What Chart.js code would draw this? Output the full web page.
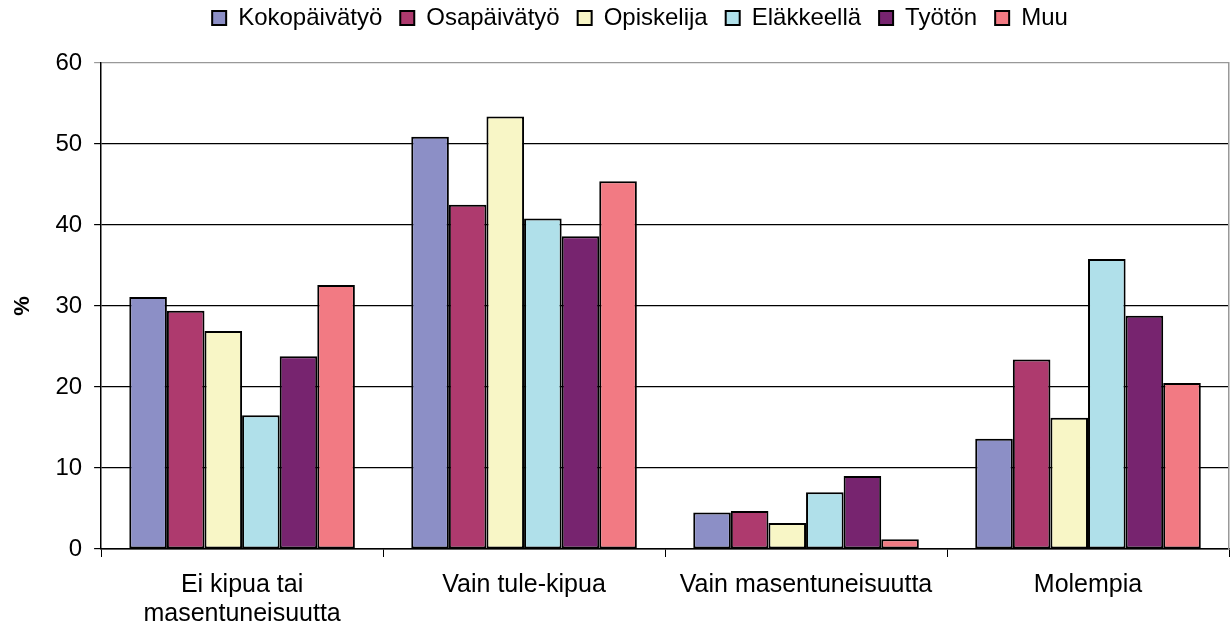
<!DOCTYPE html>
<html>
<head>
<meta charset="utf-8">
<script src="https://cdn.jsdelivr.net/npm/chart.js@4"></script>
<style>
  body { margin: 0; background: #fff; }
  #wrap { width: 1231px; height: 634px; }
</style>
</head>
<body>
<div id="wrap"><canvas id="chart"></canvas></div>
<script>
// luokat ja sarjat
const categories = [['Ei kipua tai', 'masentuneisuutta'], 'Vain tule-kipua', 'Vain masentuneisuutta', 'Molempia'];
const seriesNames = ['Kokopäivätyö', 'Osapäivätyö', 'Opiskelija', 'Eläkkeellä', 'Työtön', 'Muu'];
const kokopaivatyo = [31.1, 50.9, 4.5, 13.6];
const osapaivatyo = [29.4, 42.5, 4.7, 23.4];
const opiskelija = [26.9, 53.4, 3.2, 16.2];
const elakkeella = [16.5, 40.8, 7.0, 35.8];
const tyoton = [23.8, 38.6, 9.0, 28.8];
const muu = [32.6, 45.4, 1.2, 20.5];
const colors = ['#8c8fc6', '#ae3a6e', '#f8f6c6', '#b0e0ea', '#77246f', '#f27a83'];
const yTicks = [0, 10, 20, 30, 40, 50, 60];

const FONT = 'Arial, "Liberation Sans", sans-serif';
const values = [kokopaivatyo, osapaivatyo, opiskelija, elakkeella, tyoton, muu];

// lisätilaa selitteen alle ja pieni siirto oikealle
const legendGap = {
    id: 'legendGap',
    beforeInit(chart) {
        const lg = chart.legend;
        const fit = lg.fit;
        lg.fit = function () {
            fit.bind(lg)();
            this.height += 23;
        };
        const draw = lg.draw;
        lg.draw = function () {
            const c = chart.ctx;
            c.save();
            c.translate(24, 0);
            draw.bind(lg)();
            c.restore();
        };
    }
};

const ctx = document.getElementById('chart').getContext('2d');
new Chart(ctx, {
    type: 'bar',
    data: {
        labels: categories,
        datasets: seriesNames.map((name, i) => ({
            label: name,
            data: values[i],
            backgroundColor: colors[i],
            borderColor: '#000',
            borderWidth: 2,
            borderSkipped: false,
            categoryPercentage: 0.8,
            barPercentage: 1.0
        }))
    },
    plugins: [legendGap],
    options: {
        responsive: true,
        maintainAspectRatio: false,
        animation: false,
        layout: { padding: { top: -12, right: 2, left: 3, bottom: -9 } },
        plugins: {
            legend: {
                position: 'top',
                labels: {
                    font: { family: FONT, size: 24 },
                    color: '#000',
                    boxWidth: 14,
                    boxHeight: 14,
                    padding: 18,
                    useBorderRadius: false
                }
            },
            tooltip: { enabled: false }
        },
        scales: {
            x: {
                grid: {
                    offset: true,
                    drawOnChartArea: false,
                    color: '#000',
                    tickLength: 8
                },
                border: { color: '#000', width: 1.5 },
                ticks: {
                    font: { family: FONT, size: 25, lineHeight: 1.16 },
                    color: '#000',
                    padding: 14,
                    maxRotation: 0
                }
            },
            y: {
                min: 0,
                max: 60,
                afterBuildTicks: axis => { axis.ticks = yTicks.map(v => ({ value: v })); },
                grid: {
                    color: c => c.tick && c.tick.value === 60 ? '#999' : '#000',
                    lineWidth: 1.2,
                    tickLength: 7
                },
                border: { color: '#000', width: 1.5 },
                ticks: {
                    font: { family: FONT, size: 24 },
                    color: '#000',
                    padding: 12
                },
                title: {
                    display: true,
                    text: '%',
                    font: { family: FONT, size: 22, weight: 'bold' },
                    color: '#000',
                    padding: { top: 7, bottom: 7 }
                }
            },
            y2: {
                position: 'right',
                min: 0,
                max: 60,
                grid: { display: false, drawTicks: false },
                ticks: { display: false },
                border: { color: '#999', width: 1.5 }
            }
        }
    }
});
</script>
</body>
</html>
